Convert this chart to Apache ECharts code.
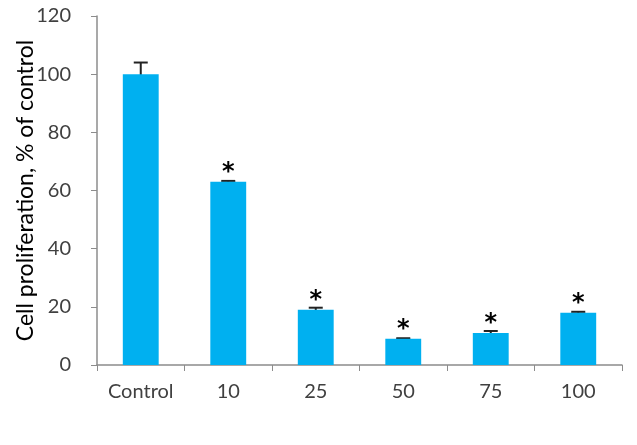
<!DOCTYPE html>
<html>
<head>
<meta charset="utf-8">
<script src="https://cdn.jsdelivr.net/npm/echarts@6/dist/echarts.min.js"></script>
<style>
  html, body { margin: 0; padding: 0; background: #fff; }
  #chart { width: 637px; height: 445px; }
</style>
</head>
<body>
<div id="chart"></div>
<script>
const categories = ['Control', '10', '25', '50', '75', '100'];
const values = [100, 63, 19, 9, 11, 18];
const errors = [4, 0.3, 0.7, 0.2, 0.7, 0.3];
const marks = ['', '*', '*', '*', '*', '*'];

const chart = echarts.init(document.getElementById('chart'));
const axisGray = '#8c8c8c';
const textColor = '#404040';

chart.setOption({
  animation: false,
  grid: {left: 97, right: 15, top: 16, bottom: 80, outerBoundsMode: 'none'},
  xAxis: {
    type: 'category',
    data: categories,
    axisLine: {lineStyle: {color: axisGray, width: 1.5}},
    axisTick: {show: true, alignWithLabel: false, length: 6, lineStyle: {color: axisGray}},
    axisLabel: {color: textColor, fontSize: 20, fontFamily: 'Lato', margin: 17}
  },
  yAxis: {
    type: 'value',
    min: 0, max: 120, interval: 20,
    name: 'Cell proliferation, % of control',
    nameLocation: 'middle',
    nameGap: 60,
    nameMoveOverlap: false,
    nameTextStyle: {color: '#000', fontSize: 23, fontFamily: 'Lato'},
    splitLine: {show: false},
    axisLine: {show: true, lineStyle: {color: axisGray, width: 1.5}},
    axisTick: {show: true, inside: false, length: 6, lineStyle: {color: axisGray}},
    axisLabel: {color: textColor, fontSize: 20, fontFamily: 'Lato', margin: 26}
  },
  series: [
    {
      type: 'bar',
      data: values,
      barWidth: '41%',
      itemStyle: {color: '#00B0F0'},
      label: {
        show: true,
        position: 'top',
        distance: -3,
        formatter: p => marks[p.dataIndex],
        color: '#000',
        fontSize: 24,
        fontWeight: 'bold',
        fontFamily: 'DejaVu Sans'
      },
      z: 3
    },
    {
      type: 'custom',
      data: values.map((v, i) => [i, v - errors[i], v + errors[i]]),
      renderItem: (params, api) => {
        const lo = api.coord([api.value(0), api.value(1)]);
        const hi = api.coord([api.value(0), api.value(2)]);
        const half = 7;
        const style = {stroke: '#222', lineWidth: 2};
        return {
          type: 'group',
          children: [
            {type: 'line', shape: {x1: hi[0], y1: hi[1], x2: lo[0], y2: lo[1]}, style},
            {type: 'line', shape: {x1: hi[0] - half, y1: hi[1], x2: hi[0] + half, y2: hi[1]}, style},
            {type: 'line', shape: {x1: lo[0] - half, y1: lo[1], x2: lo[0] + half, y2: lo[1]}, style}
          ]
        };
      },
      z: 2
    }
  ]
});
</script>
</body>
</html>
